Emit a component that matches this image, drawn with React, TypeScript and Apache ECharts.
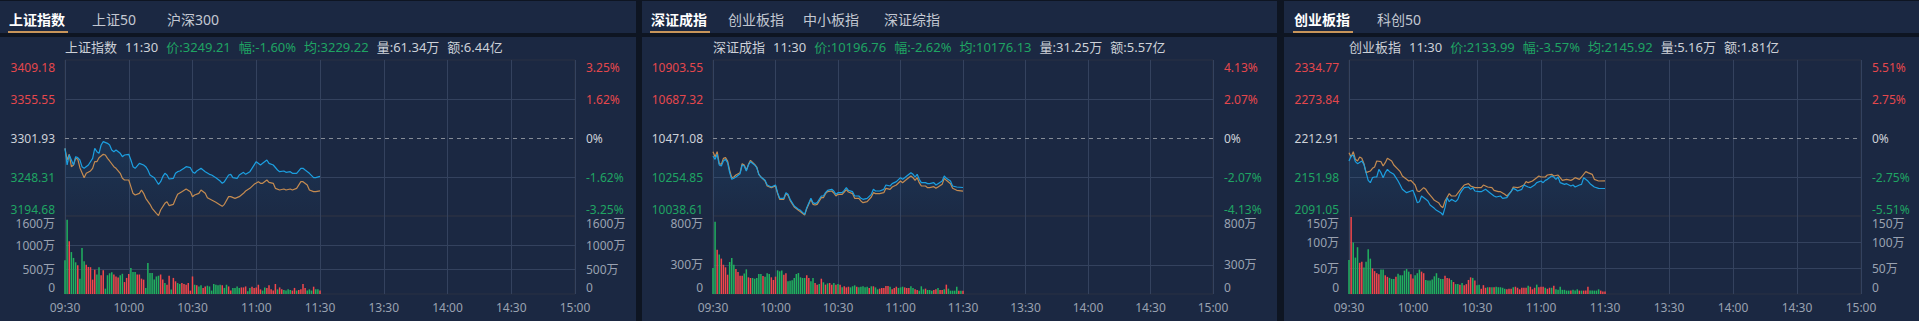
import React, { useEffect, useRef } from 'react';
import * as echarts from 'echarts';

// ---------------- shared ----------------
const TIME_LABELS = ['09:30', '10:00', '10:30', '11:00', '11:30', '13:30', '14:00', '14:30', '15:00'];

// ---------------- 上证指数 ----------------
const shTabs = ['上证指数', '上证50', '沪深300'];
const shHeader = ['上证指数', '11:30', '价:3249.21', '幅:-1.60%', '均:3229.22', '量:61.34万', '额:6.44亿'];
const shLeftTicks = ['3194.68', '3248.31', '3301.93', '3355.55', '3409.18'];
const shRightTicks = ['-3.25%', '-1.62%', '0%', '1.62%', '3.25%'];
const shPreClose = 3301.93;
const shPrice = [[0,3287.72],[1,3264.81],[2,3278.56],[3,3271.68],[4,3264.81],[5,3276.26],[6,3274.89],[7,3271.68],[8,3262.52],[9,3260.23],[11,3264.81],[13,3273.97],[14,3287.72],[15,3283.14],[16,3280.85],[17,3292.31],[18,3296.89],[20,3294.60],[21,3292.31],[22,3285.43],[23,3283.14],[24,3285.43],[26,3280.85],[27,3276.26],[28,3278.56],[30,3279.47],[31,3271.68],[32,3262.52],[33,3260.23],[35,3267.10],[37,3264.81],[38,3262.52],[39,3257.93],[40,3251.06],[42,3247.39],[43,3242.81],[44,3238.23],[45,3241.89],[46,3248.77],[47,3253.35],[48,3251.06],[49,3245.56],[51,3246.48],[52,3253.35],[53,3255.64],[54,3256.56],[56,3260.23],[57,3262.52],[59,3261.14],[60,3255.64],[61,3253.35],[62,3256.56],[64,3260.23],[65,3257.93],[66,3255.64],[68,3251.97],[69,3251.06],[71,3247.39],[73,3242.81],[74,3239.60],[75,3241.89],[77,3251.06],[78,3251.97],[79,3247.39],[81,3246.48],[82,3251.06],[84,3254.72],[85,3251.97],[87,3255.64],[88,3260.23],[90,3269.39],[92,3264.81],[93,3267.10],[95,3271.68],[96,3267.10],[98,3264.81],[100,3257.93],[101,3255.64],[103,3256.56],[104,3254.72],[106,3255.64],[107,3253.35],[109,3253.35],[111,3260.23],[112,3260.23],[113,3257.93],[115,3253.35],[117,3247.39],[118,3247.39],[120,3249.21]];
const shAvg = [[0,3287.72],[1,3271.68],[2,3279.47],[3,3262.52],[4,3264.81],[5,3273.97],[6,3273.06],[7,3261.14],[9,3247.39],[10,3253.35],[12,3256.56],[13,3260.23],[14,3269.39],[15,3269.39],[16,3274.89],[18,3279.47],[19,3278.56],[20,3273.97],[21,3270.31],[23,3262.52],[24,3260.23],[26,3253.35],[27,3246.48],[28,3244.18],[30,3244.18],[31,3235.02],[32,3225.85],[33,3223.56],[35,3225.85],[36,3230.44],[37,3225.85],[38,3218.98],[40,3210.73],[41,3205.23],[43,3198.36],[44,3195.15],[45,3202.94],[47,3212.11],[48,3214.40],[49,3208.90],[51,3210.73],[52,3218.06],[53,3224.48],[55,3228.15],[57,3231.81],[59,3228.15],[60,3221.27],[61,3223.56],[63,3225.85],[64,3230.44],[66,3225.85],[67,3219.90],[69,3216.69],[71,3213.48],[73,3209.82],[74,3207.98],[75,3210.73],[77,3221.27],[78,3221.27],[80,3218.98],[82,3221.27],[84,3225.85],[85,3229.06],[87,3232.73],[89,3238.23],[91,3241.89],[92,3239.60],[93,3239.60],[95,3244.18],[96,3240.97],[98,3239.60],[99,3232.73],[101,3230.44],[103,3231.81],[104,3230.44],[106,3231.81],[107,3230.44],[109,3232.73],[111,3241.89],[112,3241.89],[114,3237.31],[115,3230.44],[117,3228.15],[118,3228.15],[120,3229.22]];
const shVolume = [690,1525,1080,860,740,650,590,315,945,670,600,555,550,295,500,400,550,385,485,110,385,425,445,400,360,340,385,415,245,330,410,535,450,450,400,400,315,295,125,635,430,430,295,360,375,400,295,225,190,375,90,330,260,225,205,225,205,190,225,70,360,190,180,155,180,125,155,170,155,70,205,190,180,190,180,125,190,155,70,125,125,155,125,135,135,155,55,125,150,125,135,190,95,70,135,125,180,95,70,205,95,135,95,80,70,95,80,70,125,70,80,100,205,125,70,95,70,150,95,95,70];
const shVolDir = 'GGRGGGRGGGRRRRRGGRRGGGGRRRGGRRRGGGRRRRGGGGGGGRRGRRGRRGGRRRRRRGRGGRRGGGGGGGRGGRRGGGGRRRGGRRRRRGGRRRRRGRRGGGGRRGRRRRGGGRGGRR';
const shVolTicks = [0, 500, 1000, 1600];
const shVolStep = 100;

// ---------------- 深证成指 ----------------
const szTabs = ['深证成指', '创业板指', '中小板指', '深证综指'];
const szHeader = ['深证成指', '11:30', '价:10196.76', '幅:-2.62%', '均:10176.13', '量:31.25万', '额:5.57亿'];
const szLeftTicks = ['10038.61', '10254.85', '10471.08', '10687.32', '10903.55'];
const szRightTicks = ['-4.13%', '-2.07%', '0%', '2.07%', '4.13%'];
const szPreClose = 10471.08;
const szPrice = [[0,10371.29],[1,10352.81],[2,10380.53],[3,10321.39],[4,10315.85],[5,10343.57],[6,10352.81],[7,10334.33],[8,10278.89],[9,10241.93],[10,10247.47],[11,10254.86],[13,10273.34],[14,10321.39],[15,10315.85],[16,10288.13],[17,10321.39],[18,10339.87],[20,10321.39],[21,10306.61],[22,10269.65],[23,10254.86],[25,10236.38],[26,10210.51],[28,10199.42],[30,10210.51],[31,10168.01],[32,10136.59],[34,10136.59],[35,10168.01],[36,10158.77],[37,10131.05],[39,10094.09],[41,10075.61],[42,10070.06],[44,10047.89],[45,10084.85],[47,10136.59],[48,10112.57],[49,10107.02],[50,10112.57],[52,10149.53],[53,10149.53],[54,10168.01],[55,10180.94],[57,10186.49],[58,10177.25],[59,10158.77],[60,10168.01],[62,10168.01],[63,10180.94],[64,10195.73],[65,10180.94],[67,10173.55],[68,10149.53],[70,10149.53],[71,10136.59],[72,10131.05],[74,10136.59],[76,10158.77],[77,10186.49],[78,10177.25],[80,10177.25],[82,10186.49],[83,10210.51],[85,10204.97],[86,10217.90],[88,10228.99],[90,10251.17],[91,10241.93],[92,10251.17],[93,10260.41],[95,10278.89],[96,10269.65],[97,10254.86],[98,10269.65],[99,10241.93],[100,10223.45],[102,10223.45],[103,10217.90],[104,10217.90],[106,10223.45],[107,10210.51],[108,10217.90],[110,10232.69],[111,10260.41],[112,10247.47],[114,10232.69],[115,10204.97],[117,10199.42],[120,10196.76]];
const szAvg = [[0,10395.31],[1,10365.74],[2,10395.31],[3,10328.78],[4,10325.08],[5,10358.35],[6,10362.05],[7,10343.57],[8,10291.82],[9,10251.17],[10,10254.86],[11,10265.95],[13,10278.89],[14,10328.78],[15,10321.39],[16,10291.82],[17,10325.08],[18,10347.26],[20,10325.08],[21,10310.30],[22,10269.65],[23,10254.86],[25,10232.69],[26,10204.97],[28,10195.73],[30,10204.97],[31,10162.46],[32,10131.05],[34,10131.05],[35,10162.46],[36,10153.23],[37,10125.50],[39,10088.54],[41,10070.06],[42,10062.67],[44,10044.19],[45,10079.30],[47,10131.05],[48,10103.33],[49,10099.63],[50,10103.33],[52,10140.29],[53,10140.29],[54,10162.46],[55,10173.55],[57,10177.25],[58,10166.16],[59,10149.53],[60,10158.77],[62,10158.77],[63,10171.70],[64,10184.64],[65,10171.70],[67,10162.46],[68,10136.59],[70,10136.59],[71,10121.81],[72,10112.57],[74,10118.12],[76,10143.98],[77,10168.01],[78,10162.46],[80,10162.46],[82,10168.01],[83,10192.03],[85,10186.49],[86,10199.42],[88,10210.51],[90,10232.69],[91,10223.45],[92,10232.69],[93,10241.93],[95,10260.41],[96,10251.17],[97,10236.38],[98,10251.17],[99,10223.45],[100,10204.97],[102,10204.97],[103,10195.73],[104,10195.73],[106,10201.27],[107,10192.03],[108,10199.42],[110,10214.21],[111,10247.47],[112,10236.38],[114,10217.90],[115,10192.03],[117,10180.94],[120,10176.13]];
const szVolume = [267,740,455,404,363,300,274,198,328,370,300,257,226,188,188,209,253,171,164,164,157,164,205,205,185,178,212,205,171,144,178,243,233,240,198,212,130,137,140,164,205,215,171,164,164,192,164,130,164,113,96,103,157,120,96,109,113,96,113,96,103,96,68,79,68,75,68,79,89,75,68,75,79,68,75,62,79,79,68,48,55,62,62,82,82,75,48,62,75,62,68,75,68,62,62,79,62,48,41,34,79,48,55,41,41,34,41,48,62,41,41,48,96,55,34,34,34,75,34,34,34];
const szVolDir = 'GGRGRRRRGGGRRRRGGRRGGGGGRGGGRRRGGGRRGGGGGGGGGRRGGRRGRGRGRRGRGRGRRRGGGRGGGGGRGRGGRRRRRGRRRGGGRRRGGRRGGGRGGGRRGRRGRGGGGGRGR';
const szVolTicks = [0, 300, 800];
const szVolStep = 100;

// ---------------- 创业板指 ----------------
const cyTabs = ['创业板指', '科创50'];
const cyHeader = ['创业板指', '11:30', '价:2133.99', '幅:-3.57%', '均:2145.92', '量:5.16万', '额:1.81亿'];
const cyLeftTicks = ['2091.05', '2151.98', '2212.91', '2273.84', '2334.77'];
const cyRightTicks = ['-5.51%', '-2.75%', '0%', '2.75%', '5.51%'];
const cyPreClose = 2212.91;
const cyPrice = [[0,2176.97],[1,2184.79],[2,2186.35],[3,2175.93],[4,2172.81],[6,2176.97],[7,2171.77],[8,2158.75],[9,2146.77],[10,2143.12],[11,2150.93],[12,2151.98],[13,2151.98],[14,2163.95],[15,2158.75],[16,2150.93],[17,2158.75],[18,2163.95],[19,2160.31],[21,2156.14],[22,2150.93],[23,2145.73],[24,2139.48],[25,2132.71],[27,2127.50],[29,2130.10],[30,2131.14],[31,2122.29],[32,2111.87],[33,2113.44],[34,2122.29],[36,2117.08],[37,2114.48],[38,2108.23],[40,2103.02],[41,2099.90],[43,2096.25],[44,2092.61],[45,2104.06],[46,2119.69],[47,2113.44],[48,2117.08],[50,2113.44],[51,2117.08],[52,2125.94],[53,2131.14],[54,2135.31],[56,2136.35],[57,2132.71],[58,2135.31],[59,2130.10],[61,2129.06],[62,2129.06],[64,2132.71],[65,2130.10],[66,2127.50],[68,2122.29],[69,2120.73],[71,2122.29],[72,2118.65],[74,2119.69],[75,2124.89],[77,2134.27],[78,2132.71],[79,2130.10],[81,2132.71],[82,2139.48],[84,2136.35],[85,2135.31],[87,2139.48],[88,2143.12],[90,2145.73],[91,2143.12],[92,2146.77],[93,2148.33],[95,2153.54],[96,2151.98],[97,2148.33],[98,2151.98],[99,2143.12],[101,2140.52],[102,2141.56],[104,2137.91],[105,2139.48],[106,2136.35],[108,2139.48],[109,2140.52],[110,2150.93],[112,2145.73],[113,2141.56],[115,2136.35],[117,2134.27],[120,2133.99]];
const cyAvg = [[0,2189.99],[1,2183.22],[2,2191.56],[3,2179.58],[4,2176.97],[5,2183.22],[6,2181.14],[7,2172.81],[8,2158.75],[10,2161.35],[11,2165.52],[12,2167.60],[13,2176.97],[15,2175.93],[16,2169.16],[17,2174.37],[18,2181.14],[20,2176.97],[21,2170.73],[23,2163.95],[24,2160.31],[25,2153.54],[27,2148.33],[28,2145.73],[29,2146.77],[31,2139.48],[32,2130.10],[33,2129.06],[35,2135.31],[36,2132.71],[37,2127.50],[39,2119.69],[40,2115.52],[42,2111.87],[43,2106.67],[44,2104.06],[45,2114.48],[47,2125.94],[48,2122.29],[49,2122.29],[50,2122.29],[52,2131.14],[53,2135.31],[54,2139.48],[56,2141.56],[57,2137.91],[59,2135.31],[60,2135.31],[62,2135.31],[63,2139.48],[65,2136.35],[67,2135.31],[68,2131.14],[70,2129.06],[71,2129.06],[73,2124.89],[74,2122.29],[76,2129.06],[77,2136.35],[79,2135.31],[80,2136.35],[82,2139.48],[83,2144.69],[84,2143.12],[86,2145.73],[88,2150.93],[89,2153.54],[90,2151.98],[92,2151.98],[93,2155.10],[95,2156.14],[96,2153.54],[98,2155.10],[99,2150.93],[100,2146.77],[102,2148.33],[104,2146.77],[105,2148.33],[106,2150.93],[108,2148.33],[109,2151.98],[111,2160.31],[112,2158.75],[114,2156.14],[115,2148.33],[117,2145.73],[120,2145.92]];
const cyVolume = [65.6,148,99,70,90,60,62,51,62,86,68,49,44,40,38,47,47,36,33,31,29,29,33,39,36,36,45,48,43,38,30,36,40,47,43,40,27,26,26,28,34,40,31,29,29,35,31,30,27,23,19,19,18,21,17,19,27,32,31,26,17,18,10,17,12,13,13,13,13,14,13,13,12,10,9,10,10,13,14,12,9,12,12,12,16,14,9,12,18,13,14,14,12,10,12,12,16,9,8,14,8,8,6.5,6.5,6.5,8,6.5,9,6.5,6.5,6.5,6.5,14,6.5,6.5,6.5,6.5,9,6.5,5,5];
const cyVolDir = 'GRGGGRRGGGGRRRRGGRRGGGRGGGGGGRRGGGRRGGGGGGGGGRRRGRGGRGRRRRGRGGRRRGRGRGGGGGRRRGRRRRRRGRRRGRRRGRRGRGGGGGGGRGGGRGRRRGGGGGRRR';
const cyVolTicks = [0, 50, 100, 150];
const cyVolStep = 50;

// ---------------- layout & style ----------------
const LAYOUT = [
  { x: 0, w: 636, gridLeft: 65, gridWidth: 510, tabX: [9, 92, 167] },
  { x: 642, w: 635, gridLeft: 713, gridWidth: 500, tabX: [651, 728, 803, 884] },
  { x: 1284, w: 635, gridLeft: 1349, gridWidth: 512, tabX: [1294, 1377] },
];
const HEADER_Y = 47;
const PRICE_TOP = 60;
const PRICE_H = 156;
const VOL_TOP = 216;
const VOL_H = 78;

const FONT = '"Noto Sans", "Noto Sans CJK SC", sans-serif';
const GAP_BG = '#0e1522';
const PANEL_BG = '#1b2842';
const SPLIT = '#34425e';
const BORDER = '#2a3142';
const RED = '#e5474c';
const GREEN = '#1fa463';
const LIGHT = '#cdd1d8';
const GRAY = '#9aa2b1';
const BLUE = '#1c9fe0';
const TAN = '#c48b51';
const BAR_RED = '#f2474b';
const BAR_GREEN = '#21b05f';
const UNDERLINE = '#c8955a';
const TAB_INACTIVE = '#c3c8d2';

const PANELS = [
  { tabs: shTabs, header: shHeader, left: shLeftTicks, right: shRightTicks, pre: shPreClose, price: shPrice, avg: shAvg, vol: shVolume, dir: shVolDir, volTicks: shVolTicks, volStep: shVolStep },
  { tabs: szTabs, header: szHeader, left: szLeftTicks, right: szRightTicks, pre: szPreClose, price: szPrice, avg: szAvg, vol: szVolume, dir: szVolDir, volTicks: szVolTicks, volStep: szVolStep },
  { tabs: cyTabs, header: cyHeader, left: cyLeftTicks, right: cyRightTicks, pre: cyPreClose, price: cyPrice, avg: cyAvg, vol: cyVolume, dir: cyVolDir, volTicks: cyVolTicks, volStep: cyVolStep },
];

const PRICE_STYLES = ['gb', 'g', 'w', 'r', 'rt'];
const lab = (color: string, pad?: number[]) => ({ color, fontSize: 12, fontFamily: FONT, padding: pad || [0, 0, 0, 0] });
const PRICE_RICH = {
  rt: lab(RED, [14, 0, 0, 0]),
  r: lab(RED),
  w: lab(LIGHT),
  g: lab(GREEN),
  gb: lab(GREEN, [0, 0, 14, 0]),
};
const VOL_RICH = {
  vt: lab(GRAY, [14, 0, 0, 0]),
  v: lab(GRAY),
  vb: lab(GRAY, [0, 0, 14, 0]),
};

function buildOption() {
  const grid: any[] = [];
  const xAxis: any[] = [];
  const yAxis: any[] = [];
  const series: any[] = [];
  const graphic: any[] = [];

  PANELS.forEach((p, k) => {
    const L = LAYOUT[k];
    const pMin = parseFloat(p.left[0]);
    const pMax = parseFloat(p.left[4]);
    const pInt = Math.round(((pMax - pMin) / 4) * 1e6) / 1e6;
    const idxOf = (v: number) => Math.max(0, Math.min(4, Math.round((v - pMin) / pInt)));
    const volMax = p.volTicks[p.volTicks.length - 1];
    const nVolLines = Math.round(volMax / p.volStep) + 1;
    const volSplitColors = Array.from({ length: nVolLines }, (_, i) => {
      const v = i * p.volStep;
      return v !== 0 && v !== volMax && p.volTicks.includes(v) ? SPLIT : 'transparent';
    });
    const volFormatter = (v: number) => {
      const r = Math.round(v * 100) / 100;
      if (!p.volTicks.includes(r)) return '';
      const txt = r === 0 ? '0' : `${r}万`;
      const st = r === volMax ? 'vt' : r === 0 ? 'vb' : 'v';
      return `{${st}|${txt}}`;
    };

    grid.push({ left: L.gridLeft, top: PRICE_TOP, width: L.gridWidth, height: PRICE_H, show: true, borderColor: BORDER, borderWidth: 1, backgroundColor: 'transparent' });
    grid.push({ left: L.gridLeft, top: VOL_TOP, width: L.gridWidth, height: VOL_H, show: true, borderColor: BORDER, borderWidth: 1, backgroundColor: 'transparent' });

    const baseX = {
      type: 'value', min: 0, max: 240, interval: 30,
      axisLine: { show: false }, axisTick: { show: false },
      splitLine: { show: true, lineStyle: { color: SPLIT, width: 1 } },
    };
    xAxis.push({ ...baseX, gridIndex: 2 * k, axisLabel: { show: false } });
    xAxis.push({
      ...baseX, gridIndex: 2 * k + 1,
      axisLabel: { show: true, color: GRAY, fontSize: 12, fontFamily: FONT, margin: 7, formatter: (v: number) => TIME_LABELS[Math.round(v / 30)] || '' },
    });

    const basePriceY = {
      type: 'value', gridIndex: 2 * k, min: pMin, max: pMax, interval: pInt, scale: true,
      axisLine: { show: false }, axisTick: { show: false },
    };
    yAxis.push({
      ...basePriceY, position: 'left',
      splitLine: { show: true, lineStyle: { color: ['transparent', SPLIT, 'transparent', SPLIT, 'transparent'], width: 1 } },
      axisLabel: { margin: 10, fontSize: 12, fontFamily: FONT, rich: PRICE_RICH, formatter: (v: number) => { const i = idxOf(v); return `{${PRICE_STYLES[i]}|${p.left[i]}}`; } },
    });
    yAxis.push({
      ...basePriceY, position: 'right', splitLine: { show: false },
      axisLabel: { margin: 11, fontSize: 12, fontFamily: FONT, rich: PRICE_RICH, formatter: (v: number) => { const i = idxOf(v); return `{${PRICE_STYLES[i]}|${p.right[i]}}`; } },
    });
    const baseVolY = {
      type: 'value', gridIndex: 2 * k + 1, min: 0, max: volMax, interval: p.volStep,
      axisLine: { show: false }, axisTick: { show: false },
    };
    yAxis.push({
      ...baseVolY, position: 'left',
      splitLine: { show: true, lineStyle: { color: volSplitColors, width: 1 } },
      axisLabel: { margin: 10, fontSize: 12, fontFamily: FONT, rich: VOL_RICH, formatter: volFormatter },
    });
    yAxis.push({
      ...baseVolY, position: 'right', splitLine: { show: false },
      axisLabel: { margin: 11, fontSize: 12, fontFamily: FONT, rich: VOL_RICH, formatter: volFormatter },
    });

    series.push({
      type: 'line', name: `${p.header[0]}均价`, xAxisIndex: 2 * k, yAxisIndex: 4 * k,
      data: p.avg, symbol: 'none', showSymbol: false, silent: true,
      lineStyle: { color: TAN, width: 1.2 },
    });
    series.push({
      type: 'line', name: p.header[0], xAxisIndex: 2 * k, yAxisIndex: 4 * k,
      data: p.price, symbol: 'none', showSymbol: false, silent: true,
      lineStyle: { color: BLUE, width: 1.2 },
      areaStyle: {
        origin: 'start',
        color: new echarts.graphic.LinearGradient(0, 0, 0, 1, [
          { offset: 0, color: 'rgba(40,140,210,0.16)' },
          { offset: 1, color: 'rgba(40,140,210,0.03)' },
        ]),
      },
      markLine: {
        silent: true, symbol: ['none', 'none'], label: { show: false },
        lineStyle: { color: '#868c97', type: [4, 4], width: 1 },
        data: [{ yAxis: p.pre }],
      },
    });
    series.push({
      type: 'bar', name: `${p.header[0]}成交量`, xAxisIndex: 2 * k + 1, yAxisIndex: 4 * k + 2,
      barWidth: 1.5, silent: true,
      data: p.vol.map((v, i) => ({ value: [i, v], itemStyle: { color: p.dir[i] === 'R' ? BAR_RED : BAR_GREEN } })),
    });

    // tabs
    p.tabs.forEach((t, i) => {
      graphic.push({
        type: 'text', x: L.tabX[i], y: 19, silent: true,
        style: {
          text: t, fill: i === 0 ? '#ffffff' : TAB_INACTIVE, fontSize: 14, fontWeight: i === 0 ? 'bold' : 'normal',
          fontFamily: FONT, verticalAlign: 'middle', textVerticalAlign: 'middle',
        },
      });
    });
    graphic.push({ type: 'rect', silent: true, shape: { x: L.tabX[0] - 1, y: 31, width: 60, height: 2 }, style: { fill: UNDERLINE } });

    // header line
    const h = p.header;
    const text = `{n|${h[0]}}{s| }{n|${h[1]}}{s| }{g|${h[2]}}{s| }{g|${h[3]}}{s| }{g|${h[4]}}{s| }{n|${h[5]}}{s| }{n|${h[6]}}`;
    graphic.push({
      type: 'text', x: L.gridLeft, y: HEADER_Y, silent: true,
      style: {
        text, fontSize: 13, fontFamily: FONT, verticalAlign: 'middle', textVerticalAlign: 'middle',
        rich: {
          n: { fill: LIGHT, fontSize: 13, fontFamily: FONT },
          g: { fill: GREEN, fontSize: 13, fontFamily: FONT },
          s: { width: 8, fontSize: 13 },
        },
      },
    });
  });

  return { animation: false, backgroundColor: 'transparent', grid, xAxis, yAxis, series, graphic };
}

export default function App() {
  const ref = useRef<HTMLDivElement>(null);
  useEffect(() => {
    document.body.style.margin = '0';
    const chart = echarts.init(ref.current as HTMLDivElement, undefined, { renderer: 'svg' });
    chart.setOption(buildOption() as any);
    return () => chart.dispose();
  }, []);
  return (
    <div style={{ position: 'fixed', left: 0, top: 0, width: 1919, height: 321, background: GAP_BG, overflow: 'hidden' }}>
      {LAYOUT.map((L, i) => (
        <React.Fragment key={i}>
          <div style={{ position: 'absolute', left: L.x, top: 1, width: L.w, height: 32, background: PANEL_BG }} />
          <div style={{ position: 'absolute', left: L.x, top: 37, width: L.w, height: 284, background: PANEL_BG }} />
        </React.Fragment>
      ))}
      <div ref={ref} style={{ position: 'absolute', left: 0, top: 0, width: 1919, height: 321 }} />
    </div>
  );
}
